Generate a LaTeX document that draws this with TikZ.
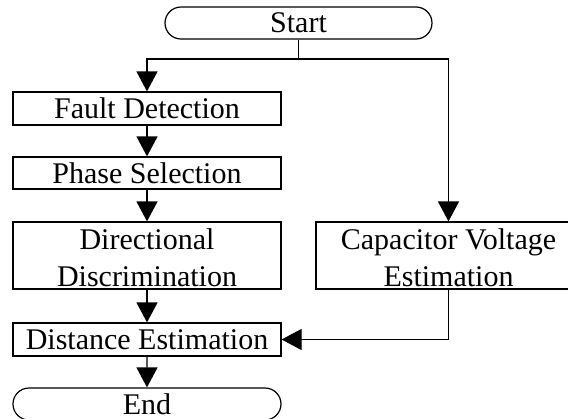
\documentclass[tikz,border=0pt]{standalone}
\usepackage{fontspec}
\setmainfont{Liberation Serif}
\usetikzlibrary{arrows.meta,shapes.misc}
\tikzset{
  box/.style={draw, line width=1.2pt, minimum width=268pt, minimum height=33pt, inner sep=0pt, align=center, font=\fontsize{30pt}{36.5pt}\selectfont},
  term/.style={box, rounded rectangle, rounded rectangle arc length=180, minimum height=32pt},
  arr/.style={line width=1.2pt, -{Triangle[length=20pt,width=21pt]}},
  ln/.style={line width=1.2pt}
}
\newcommand{\topstrut}{\rule{0pt}{25pt}}
\begin{document}
\begin{tikzpicture}[x=1pt,y=1pt]
\useasboundingbox (0,0) rectangle (568,-418);
\clip (0,0) rectangle (568,-418);
\node[term, minimum width=267pt] (start) at (298.5,-23) {Start};
\node[box] (fault) at (147,-108.5) {Fault Detection};
\node[box, minimum height=32pt] (phase) at (147,-173) {Phase Selection};
\node[box, minimum height=67pt] (dir) at (147,-255.5) {\topstrut Directional\\Discrimination};
\node[box, minimum height=67pt, minimum width=265pt] (cap) at (448.5,-255.5) {\topstrut Capacitor Voltage\\Estimation};
\node[box] (dist) at (147,-339.5) {Distance Estimation};
\node[term] (end) at (147,-404) {End};
\coordinate (split) at (298.5,-59);
\draw[ln] (start.south) -- (split);
\draw[arr] (split) -| (fault.north);
\draw[arr] (split) -| (cap.north);
\draw[arr] (fault) -- (phase);
\draw[arr] (phase) -- (dir);
\draw[arr] (dir) -- (dist);
\draw[arr] (dist) -- (end);
\draw[arr] (cap.south) |- (dist.east);
\end{tikzpicture}
\end{document}
